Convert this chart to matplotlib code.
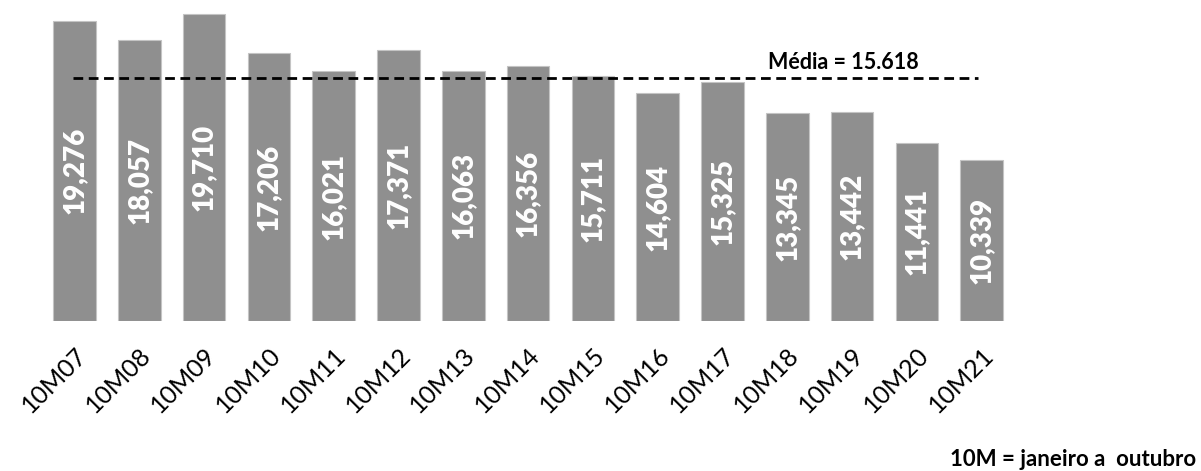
import numpy as np
import matplotlib
matplotlib.use("Agg")
import matplotlib.pyplot as plt

# Data
periods = ["10M07", "10M08", "10M09", "10M10", "10M11", "10M12", "10M13",
           "10M14", "10M15", "10M16", "10M17", "10M18", "10M19", "10M20", "10M21"]
values = [19276, 18057, 19710, 17206, 16021, 17371, 16063,
          16356, 15711, 14604, 15325, 13345, 13442, 11441, 10339]
mean_label = "Média = 15.618"
footer = "10M = janeiro a  outubro"

BAR = "#8f8f8f"
EDGE = "#c4c4c4"
FONT = ["Lato", "DejaVu Sans"]

plt.rcParams["font.family"] = FONT

W, H = 1201, 471
fig = plt.figure(figsize=(W / 100, H / 100), dpi=100, facecolor="white")

# axes placement in pixels
step = 64.8
x0_px = 74.5
left_px = x0_px - 0.6 * step
right_px = x0_px + 14.6 * step
base_px = 321            # from top
ytop = 20200
scale = 0.01558
top_px = base_px - ytop * scale
ax = fig.add_axes([left_px / W, (H - base_px) / H,
                   (right_px - left_px) / W, (base_px - top_px) / H])

x = np.arange(len(periods))
ax.bar(x, values, width=0.66, color=BAR, edgecolor=EDGE, linewidth=0.8)

for xi, v in zip(x, values):
    ax.text(xi, v / 2, f"{v:,}", rotation=90, ha="center", va="center",
            color="white", fontsize=20, fontweight="heavy")

mean = np.mean(values)
ax.plot([-0.03, 13.95], [mean, mean], color="black", linewidth=2,
        linestyle=(0, (3.5, 2)))
ax.text(11.86, mean + 1000, mean_label, ha="center", va="center",
        fontsize=15.5, fontweight="bold", color="black")

ax.set_xlim(-0.6, 14.6)
ax.set_ylim(0, ytop)
ax.set_xticks(x)
ax.set_xticklabels(periods, rotation=45, ha="right", rotation_mode="anchor",
                   fontsize=18)
ax.tick_params(axis="x", length=0, pad=16)
ax.set_yticks([])
for s in ax.spines.values():
    s.set_visible(False)

fig.text(1196 / W, 1 - 460 / H, footer, ha="right", va="center",
         fontsize=16, fontweight="bold", color="black")

fig.savefig("out.png", dpi=100, facecolor="white")
